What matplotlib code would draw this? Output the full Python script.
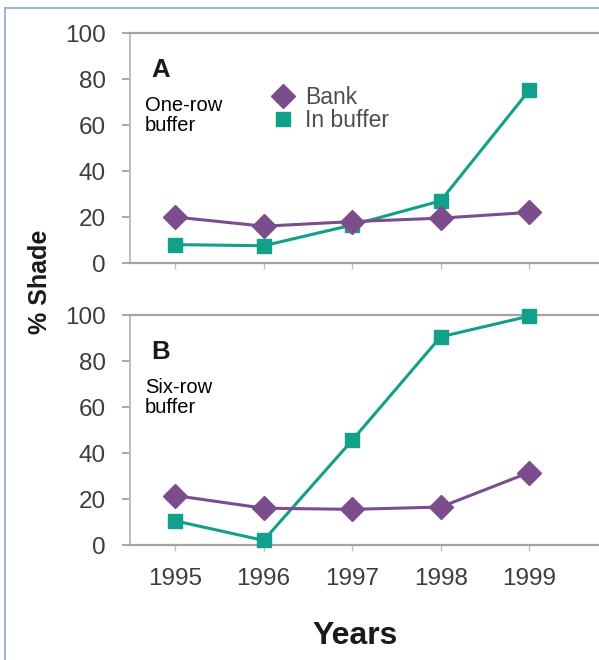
import matplotlib
matplotlib.use("Agg")
import matplotlib.pyplot as plt
from matplotlib.lines import Line2D
from matplotlib import font_manager

years = [1995, 1996, 1997, 1998, 1999]
bank_a = [20, 16, 18, 19.5, 22]
buffer_a = [8, 7.5, 16.5, 27, 75]
bank_b = [21.5, 16, 15.5, 16.5, 31.5]
buffer_b = [10.5, 2, 45.5, 90.5, 99.5]
yticks = [0, 20, 40, 60, 80, 100]
xtick_labels = ["1995", "1996", "1997", "1998", "1999"]
panel_letters = ["A", "B"]
panel_notes = ["One-row\nbuffer", "Six-row\nbuffer"]
series_names = ["Bank", "In buffer"]

names = {f.name for f in font_manager.fontManager.ttflist}
narrow = "Liberation Sans Narrow" if "Liberation Sans Narrow" in names else "Liberation Sans"
plt.rcParams['font.family'] = [narrow, 'DejaVu Sans']

PURPLE = "#7b4d8c"
TEAL = "#12a08a"
TICKC = "#3d3d3d"

W, H = 599, 660
fig = plt.figure(figsize=(W / 100, H / 100), dpi=100)

def px_rect(x0, y0, x1, y1):
    return [x0 / W, 1 - y1 / H, (x1 - x0) / W, (y1 - y0) / H]

axA = fig.add_axes(px_rect(130, 33, 599, 263))
axB = fig.add_axes(px_rect(130, 315, 599, 545))

for ax, bank, buf, letter, note, showx in [
    (axA, bank_a, buffer_a, panel_letters[0], panel_notes[0], False),
    (axB, bank_b, buffer_b, panel_letters[1], panel_notes[1], True),
]:
    ax.plot(years, bank, color=PURPLE, lw=2.2, marker="D", ms=12,
            mec=PURPLE, mfc=PURPLE, clip_on=False, zorder=4)
    ax.plot(years, buf, color=TEAL, lw=2.2, marker="s", ms=10,
            mec=TEAL, mfc=TEAL, clip_on=False, zorder=3)
    ax.set_xlim(1994.49, 1999.79)
    ax.set_ylim(0, 100)
    ax.set_yticks(yticks)
    ax.set_yticklabels([str(t) for t in yticks], fontsize=17.5, color=TICKC)
    ax.set_xticks(years)
    if showx:
        ax.set_xticklabels(xtick_labels, fontsize=17.5, color=TICKC)
    else:
        ax.set_xticklabels([])
    ax.tick_params(axis="y", direction="out", length=5.5, width=1.2,
                   color="#9a9a9a", pad=12)
    ax.tick_params(axis="x", direction="out", length=4.5, width=1.0,
                   color="#bdbdbd", pad=12)
    ax.spines["right"].set_visible(False)
    for s in ["top", "bottom"]:
        ax.spines[s].set_color("#a3a3a3")
        ax.spines[s].set_linewidth(1.6)
    ax.spines["left"].set_color("#b8b8b8")
    ax.spines["left"].set_linewidth(1.3)
    ax.text(0.045, 0.84, letter, transform=ax.transAxes, fontsize=18.5,
            fontweight="bold", family=["Liberation Sans", "DejaVu Sans"],
            color="#1a1a1a", ha="left", va="center")
    ax.text(0.032, 0.725, note, transform=ax.transAxes, fontsize=14.5,
            family=["Liberation Sans", "DejaVu Sans"], color="black",
            ha="left", va="top", linespacing=1.05)

handles = [
    Line2D([], [], ls="none", marker="D", ms=12, color=PURPLE),
    Line2D([], [], ls="none", marker="s", ms=10, color=TEAL),
]
leg = axA.legend(handles, series_names, loc="upper left",
                 bbox_to_anchor=(272 / W, 1 - 86 / H),
                 bbox_transform=fig.transFigure, frameon=False,
                 fontsize=16.5, handlelength=1.0, handletextpad=0.45,
                 labelspacing=0.0, borderpad=0, borderaxespad=0)
for t in leg.get_texts():
    t.set_color("#4d4d4d")

fig.text(40 / W, 1 - 282 / H, "% Shade", rotation=90, fontsize=18,
         fontweight="bold", family=["Liberation Sans", "DejaVu Sans"],
         color="#1a1a1a", ha="center", va="center")
fig.text(355 / W, 1 - 636 / H, "Years", fontsize=23, fontweight="bold",
         family=["Liberation Sans", "DejaVu Sans"], color="#1a1a1a",
         ha="center", va="center")

# outer frame (left and top edges)
fig.add_artist(Line2D([5 / W, 5 / W], [0, 1 - 8 / H], color="#8aa9d0",
                      lw=1.2, transform=fig.transFigure))
fig.add_artist(Line2D([5 / W, 1], [1 - 8 / H, 1 - 8 / H], color="#8aa9d0",
                      lw=1.2, transform=fig.transFigure))

fig.savefig("out.png", dpi=100)
